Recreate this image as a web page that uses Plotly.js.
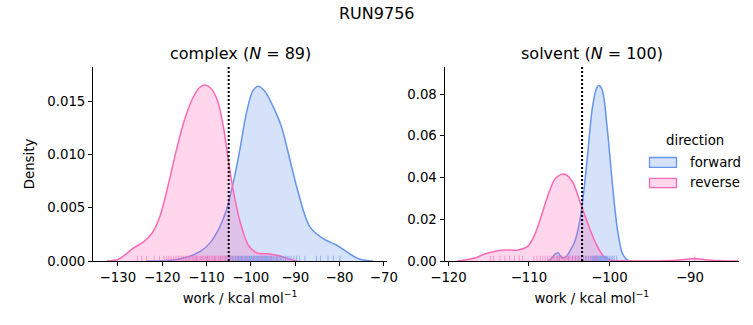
<!DOCTYPE html>
<html>
<head>
<meta charset="utf-8">
<script src="https://cdn.plot.ly/plotly-3.0.1.min.js"></script>
<style>html,body{margin:0;padding:0;background:#fff;}#chart{width:753px;height:325px;}</style>
</head>
<body>
<div id="chart"></div>
<script>
// ---- Data ----
// complex KDE curves (work, density)
const complexForwardX = [-123.5, -117.5, -114.5, -111.5, -109.2, -107.0, -105.5, -104.0, -102.5, -101.0, -99.5, -98.3, -96.8, -95.0, -93.1, -91.2, -89.3, -86.7, -83.7, -80.7, -78.1, -75.4, -72.4];
const complexForwardY = [0, 0.0001, 0.00035, 0.00087, 0.0017, 0.0032, 0.0048, 0.0073, 0.0104, 0.0139, 0.0160, 0.0164, 0.0159, 0.0145, 0.0126, 0.0095, 0.0064, 0.0032, 0.0021, 0.0015, 0.00078, 0.00016, 0];
const complexReverseX = [-132.5, -129.9, -126.5, -124.2, -122.3, -120.5, -118.6, -116.8, -115.0, -113.2, -111.5, -110.2, -108.8, -107.5, -106.2, -105.1, -104.0, -102.5, -100.6, -98.7, -95.7, -93.4, -91.2, -89.5];
const complexReverseY = [0, 0.00016, 0.0012, 0.0018, 0.0026, 0.0042, 0.0072, 0.0104, 0.0132, 0.0152, 0.0163, 0.0165, 0.0161, 0.0150, 0.0126, 0.0095, 0.0067, 0.0038, 0.0015, 0.00078, 0.00066, 0.00047, 0.00016, 0];
// solvent KDE curves
const solventForwardX = [-107.7, -107.2, -106.8, -106.4, -105.9, -105.4, -104.9, -104.3, -103.7, -103.2, -102.7, -102.1, -101.6, -101.3, -100.9, -100.3, -99.6, -99.0, -98.4, -97.8, -97.1];
const solventForwardY = [0, 0.0012, 0.0032, 0.0040, 0.0016, 0.0020, 0.0048, 0.0095, 0.0190, 0.0330, 0.0517, 0.0740, 0.0828, 0.0841, 0.0820, 0.0644, 0.0356, 0.0149, 0.0037, 0.0005, 0];
const solventReverseX = [-118.9, -116.8, -115.6, -114.3, -113.1, -111.4, -110.2, -109.4, -108.5, -107.7, -106.7, -105.6, -104.6, -103.6, -102.7, -101.7, -100.7, -99.8, -98.5, -96, -93, -91, -89.5, -88, -86, -84];
const solventReverseY = [0, 0.0013, 0.0032, 0.0046, 0.0053, 0.0053, 0.0069, 0.0117, 0.0212, 0.0308, 0.0397, 0.0417, 0.0380, 0.0277, 0.0181, 0.0085, 0.0021, 0.0004, 0.0001, 0, 0.0001, 0.0006, 0.0012, 0.0006, 0.0001, 0];
// individual work values (rug)
const complexForwardWork = [-112.3, -109.8, -108.1, -106.9, -105.8, -104.9, -104.6, -104.3, -104.1, -103.8, -103.5, -103.3, -103.0, -102.8, -102.5, -102.3, -102.1, -101.9, -101.6, -101.4, -101.2, -101.0, -100.8, -100.5, -100.3, -100.1, -99.9, -99.7, -99.5, -99.3, -99.1, -98.9, -98.7, -98.5, -98.3, -98.1, -97.9, -97.7, -97.5, -97.3, -97.1, -96.9, -96.7, -96.5, -96.3, -96.1, -95.9, -95.7, -95.5, -95.3, -95.0, -94.8, -94.5, -94.2, -93.9, -93.6, -93.3, -93.0, -92.6, -92.2, -91.8, -91.4, -90.9, -90.3, -89.7, -89.0, -87.8, -85.2, -84.3, -82.6, -81.4, -79.9];
const complexReverseWork = [-125.6, -124.6, -123.5, -121.8, -120.6, -119.6, -119.0, -118.5, -118.0, -117.4, -116.9, -116.4, -116.0, -115.6, -115.2, -114.8, -114.5, -114.1, -113.8, -113.5, -113.2, -112.9, -112.6, -112.3, -112.0, -111.7, -111.4, -111.1, -110.9, -110.6, -110.3, -110.1, -109.8, -109.5, -109.3, -109.0, -108.7, -108.5, -108.2, -107.9, -107.6, -107.3, -107.0, -106.7, -106.4, -106.1, -105.8, -105.5, -105.2, -104.9, -104.5, -104.0, -103.4, -102.7, -101.9, -100.8, -99.3, -97.6, -95.4, -94.0];
const solventForwardWork = [-106.4, -106.2, -105.1, -104.6, -104.2, -103.8, -103.5, -103.2, -103.0, -102.8, -102.6, -102.4, -102.3, -102.1, -102.0, -101.9, -101.8, -101.7, -101.6, -101.5, -101.4, -101.3, -101.2, -101.1, -101.0, -100.9, -100.8, -100.7, -100.6, -100.5, -100.4, -100.3, -100.2, -100.0, -99.8, -99.6, -99.4, -99.1];
const solventReverseWork = [-114.8, -114.4, -113.6, -113.0, -112.4, -111.8, -111.2, -110.8, -109.4, -109.0, -108.6, -108.3, -108.0, -107.7, -107.4, -107.2, -107.0, -106.8, -106.6, -106.4, -106.2, -106.0, -105.8, -105.6, -105.4, -105.2, -105.0, -104.8, -104.6, -104.4, -104.2, -104.0, -103.8, -103.5, -103.2, -102.9, -102.6, -102.2, -101.8, -101.5, -89.4];

const directionLabels = ['forward', 'reverse'];
const panelTitles = ['complex (<i>N</i> = 89)', 'solvent (<i>N</i> = 100)'];
const meanLines = [-105.0, -103.4];

// ---- Styles ----
const FONT = 'DejaVu Sans';
const blueLine = '#6495ED', blueFill = 'rgba(100,149,237,0.27)', blueRug = 'rgba(100,149,237,0.6)';
const pinkLine = '#FF69B4', pinkFill = 'rgba(255,105,180,0.27)', pinkRug = 'rgba(255,105,180,0.6)';
const yRange1 = [0, 0.0182], yRange2 = [0, 0.093];

function kde(x, y, line, fill, xa, ya) {
  return {x: x, y: y, xaxis: xa, yaxis: ya, type: 'scatter', mode: 'lines',
    line: {color: line, width: 1.5, shape: 'spline', smoothing: 0.9},
    fill: 'tozeroy', fillcolor: fill, showlegend: false, hoverinfo: 'skip'};
}
function rug(vals, color, xa, ya, yr) {
  const h = 0.027 * (yr[1] - yr[0]);
  const xs = [], ys = [];
  vals.forEach(v => { xs.push(v, v, null); ys.push(0, h, null); });
  return {x: xs, y: ys, xaxis: xa, yaxis: ya, type: 'scatter', mode: 'lines',
    line: {color: color, width: 1}, showlegend: false, hoverinfo: 'skip'};
}

const data = [
  kde(complexForwardX, complexForwardY, blueLine, blueFill, 'x', 'y'),
  kde(complexReverseX, complexReverseY, pinkLine, pinkFill, 'x', 'y'),
  rug(complexForwardWork, blueRug, 'x', 'y', yRange1),
  rug(complexReverseWork, pinkRug, 'x', 'y', yRange1),
  kde(solventForwardX, solventForwardY, blueLine, blueFill, 'x2', 'y2'),
  kde(solventReverseX, solventReverseY, pinkLine, pinkFill, 'x2', 'y2'),
  rug(solventForwardWork, blueRug, 'x2', 'y2', yRange2),
  rug(solventReverseWork, pinkRug, 'x2', 'y2', yRange2)
];

const W = 753, H = 325;
const px = v => v / W, py = v => 1 - v / H;
const tickFont = {family: FONT, size: 13.3, color: '#000'};
const axBase = {showline: true, linecolor: '#000', linewidth: 1, ticks: 'outside', ticklen: 4,
  tickwidth: 1, tickcolor: '#000', showgrid: false, zeroline: false, tickfont: tickFont, mirror: false};
const xTitle = {text: 'work / kcal mol<sup>−1</sup>', font: {family: FONT, size: 13.3, color: '#000'}, standoff: 9};

const layout = {
  width: W, height: H, margin: {l: 0, r: 0, t: 0, b: 0},
  paper_bgcolor: '#fff', plot_bgcolor: '#fff', showlegend: false,
  font: {family: FONT, color: '#000'},
  xaxis: Object.assign({}, axBase, {domain: [px(93), px(387)], range: [-135.6, -69.3], dtick: 10, tick0: -130, anchor: 'y', title: xTitle}),
  yaxis: Object.assign({}, axBase, {domain: [py(261), py(67)], range: yRange1, dtick: 0.005, tickformat: '.3f', anchor: 'x',
    title: {text: 'Density', font: {family: FONT, size: 13.3, color: '#000'}, standoff: 9}}),
  xaxis2: Object.assign({}, axBase, {domain: [px(444.5), px(739)], range: [-120.5, -83.9], dtick: 10, tick0: -120, anchor: 'y2', title: xTitle}),
  yaxis2: Object.assign({}, axBase, {domain: [py(261), py(67)], range: yRange2, dtick: 0.02, tickformat: '.2f', anchor: 'x2'}),
  shapes: [
    {type: 'line', xref: 'x', yref: 'y domain', x0: meanLines[0], x1: meanLines[0], y0: 0, y1: 1, line: {color: '#000', width: 2, dash: '2px,2px'}},
    {type: 'line', xref: 'x2', yref: 'y2 domain', x0: meanLines[1], x1: meanLines[1], y0: 0, y1: 1, line: {color: '#000', width: 2, dash: '2px,2px'}},
    {type: 'rect', xref: 'paper', yref: 'paper', x0: px(649.5), x1: px(676.5), y0: py(167.3), y1: py(157.5), fillcolor: blueFill, line: {color: blueLine, width: 1.3}},
    {type: 'rect', xref: 'paper', yref: 'paper', x0: px(649.5), x1: px(676.5), y0: py(187.7), y1: py(178.3), fillcolor: pinkFill, line: {color: pinkLine, width: 1.3}}
  ],
  annotations: [
    {text: 'RUN9756', xref: 'paper', yref: 'paper', x: px(376.5), y: py(13), xanchor: 'center', yanchor: 'middle', showarrow: false, font: {family: FONT, size: 16, color: '#000'}},
    {text: panelTitles[0], xref: 'paper', yref: 'paper', x: px(240), y: py(54), xanchor: 'center', yanchor: 'middle', showarrow: false, font: {family: FONT, size: 16, color: '#000'}},
    {text: panelTitles[1], xref: 'paper', yref: 'paper', x: px(591.5), y: py(54), xanchor: 'center', yanchor: 'middle', showarrow: false, font: {family: FONT, size: 16, color: '#000'}},
    {text: 'direction', xref: 'paper', yref: 'paper', x: px(695), y: py(141), xanchor: 'center', yanchor: 'middle', showarrow: false, font: {family: FONT, size: 13.3, color: '#000'}},
    {text: directionLabels[0], xref: 'paper', yref: 'paper', x: px(687.5), y: py(162), xanchor: 'left', yanchor: 'middle', showarrow: false, font: {family: FONT, size: 13.3, color: '#000'}},
    {text: directionLabels[1], xref: 'paper', yref: 'paper', x: px(687.5), y: py(182.5), xanchor: 'left', yanchor: 'middle', showarrow: false, font: {family: FONT, size: 13.3, color: '#000'}}
  ]
};

Plotly.newPlot('chart', data, layout, {displayModeBar: false, staticPlot: true});
</script>
</body>
</html>
